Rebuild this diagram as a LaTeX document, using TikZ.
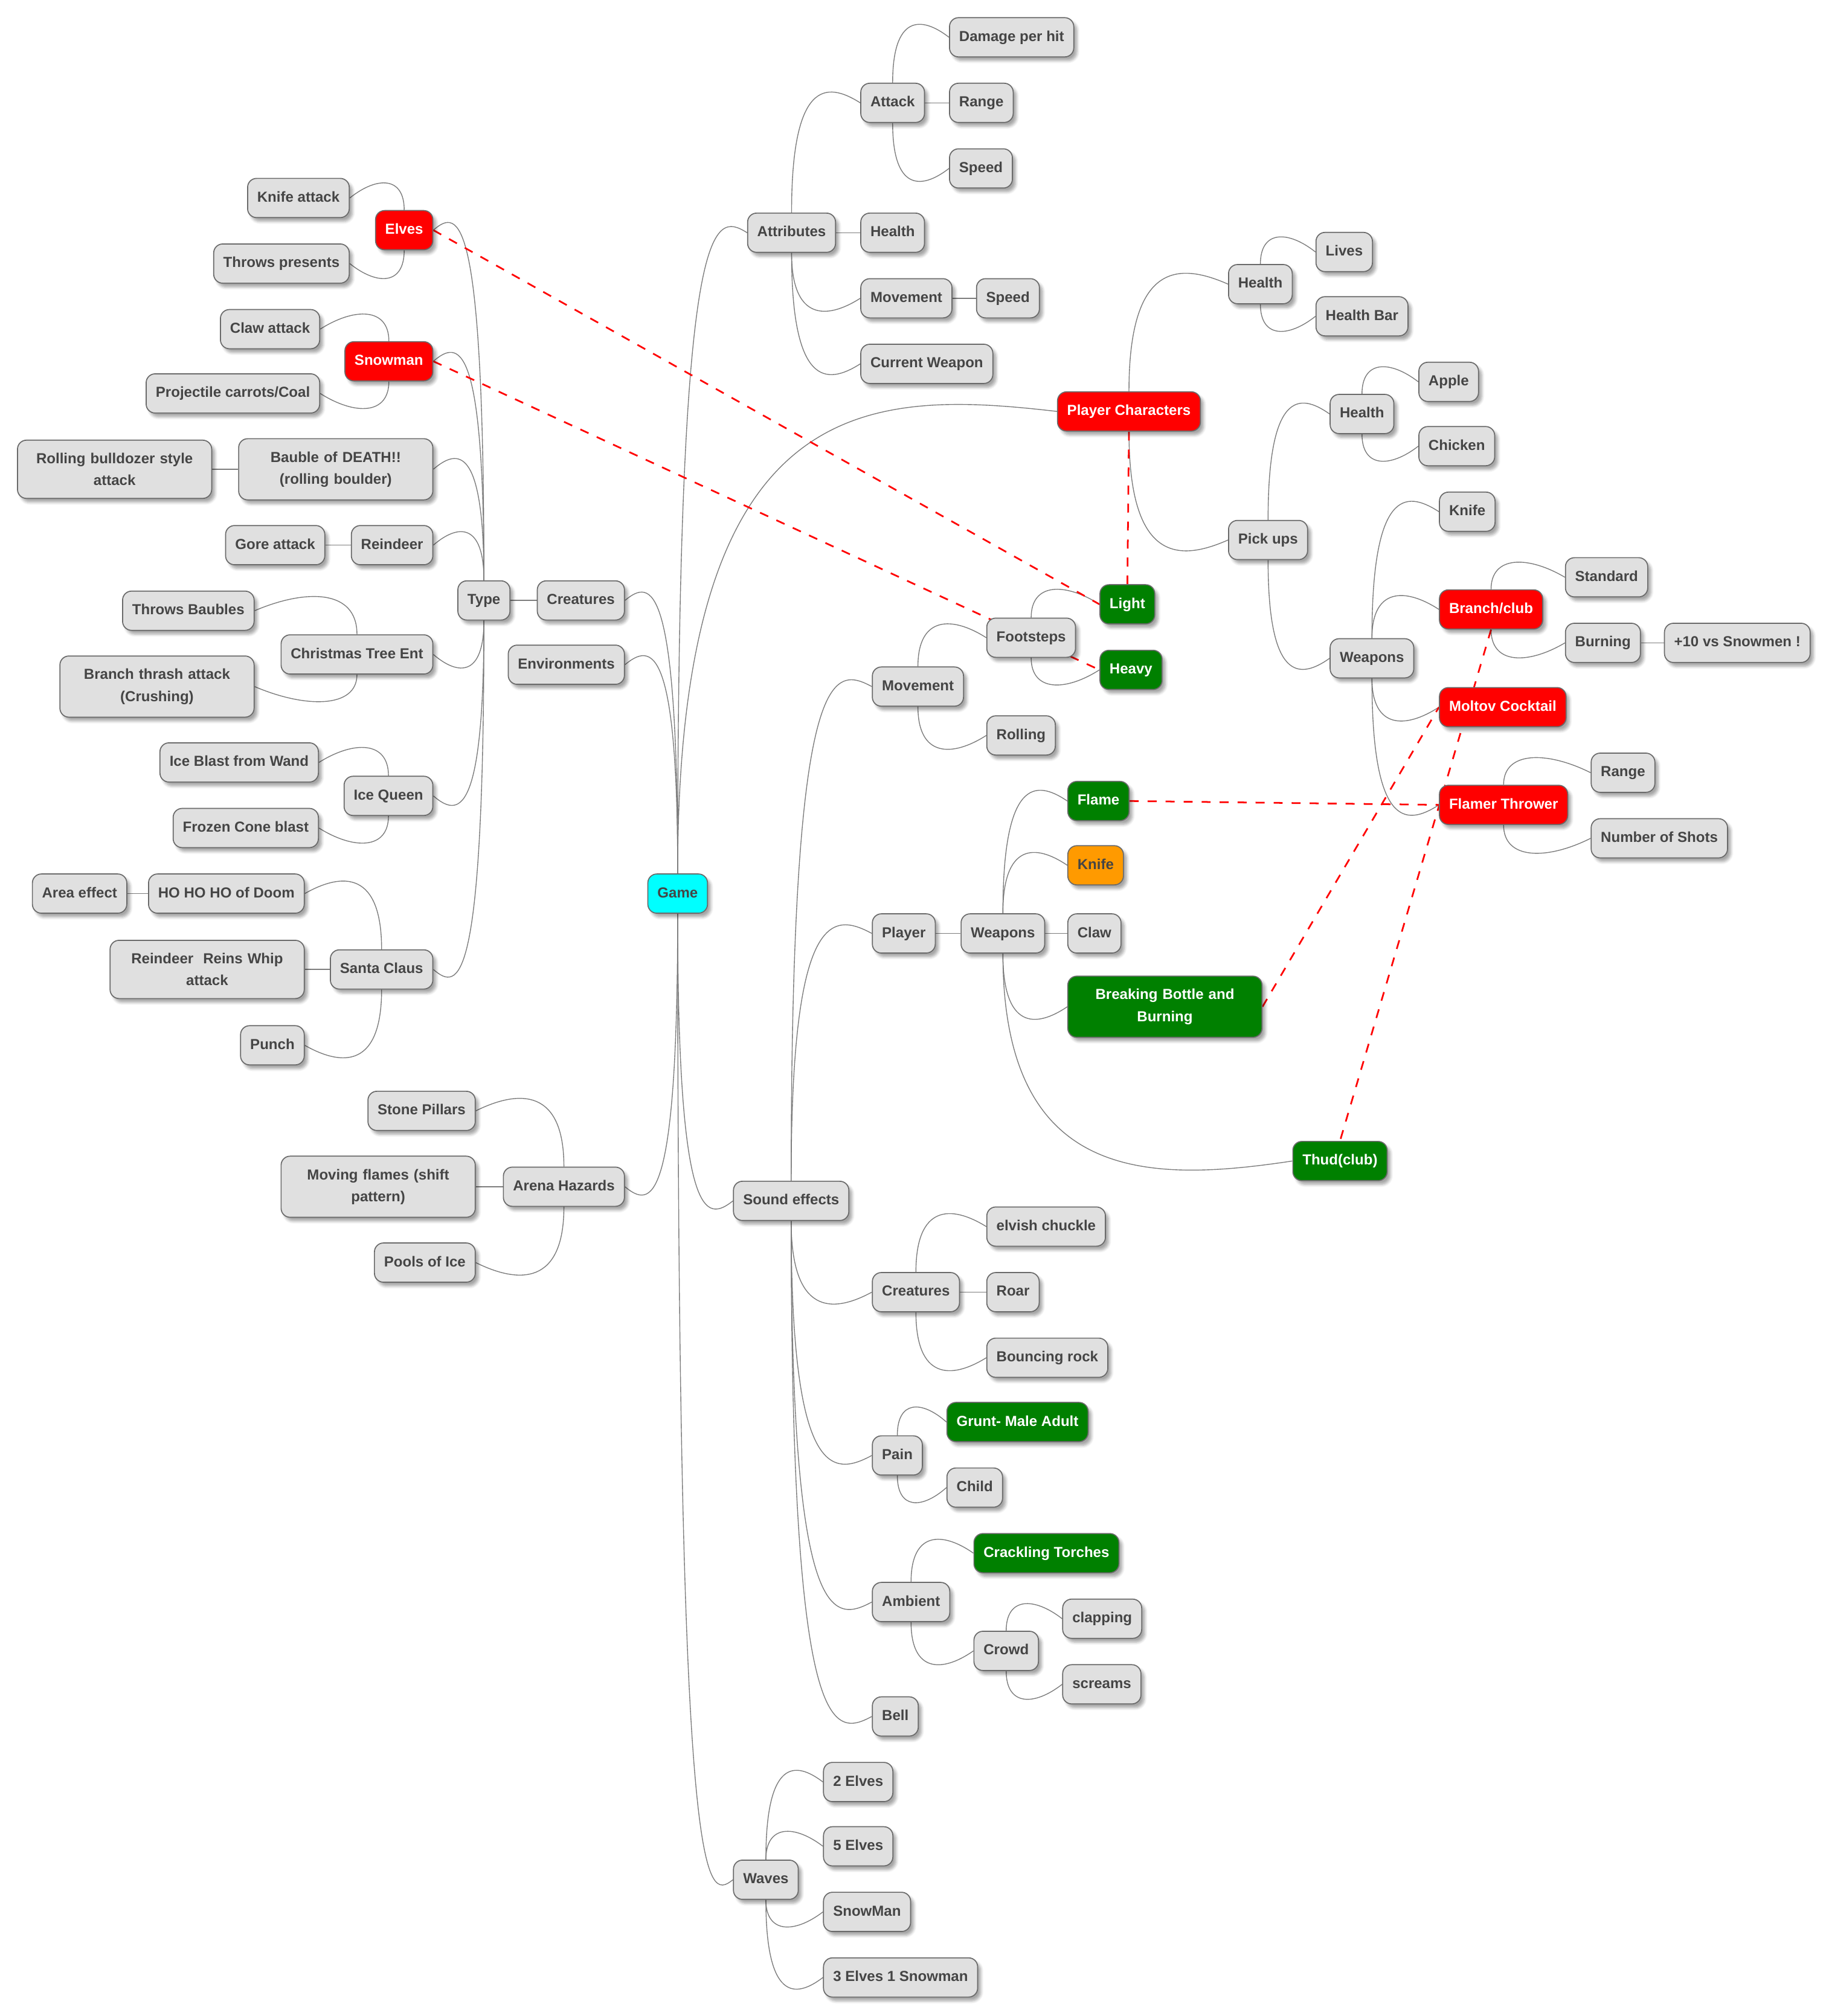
\documentclass[tikz,border=0pt]{standalone}
\usepackage{fontspec}
\setmainfont{Liberation Sans}
\usepackage{tikz}
\usetikzlibrary{calc,shadows.blur}

\definecolor{nodegray}{HTML}{E0E0E0}
\definecolor{bordergray}{HTML}{6A6A6A}
\definecolor{textgray}{HTML}{454545}
\definecolor{linegray}{HTML}{7C7C7C}
\definecolor{nodegreen}{HTML}{008000}
\definecolor{nodeorange}{HTML}{FF9A00}
\definecolor{nodered}{HTML}{FF0000}
\definecolor{nodecyan}{HTML}{00FFFF}

\pgfdeclarelayer{background}
\pgfsetlayers{background,main}

\begin{document}
\begin{tikzpicture}[
			x=1pt, y=-1pt,
			mmnode/.style={rectangle, rounded corners=7pt, draw=bordergray, line width=0.8pt, fill=nodegray, text=textgray,
				font=\bfseries\fontsize{11.3}{17}\selectfont, inner xsep=7.5pt, inner ysep=10pt, text height=8.3pt, text depth=2.2pt,
				blur shadow={shadow xshift=2.5pt, shadow yshift=-3pt, shadow opacity=35, shadow blur steps=6}},
			rnode/.style={mmnode, anchor=west},
			lnode/.style={mmnode, anchor=east},
			rootnode/.style={mmnode, fill=nodecyan},
			rednode/.style={fill=nodered, text=white},
			greennode/.style={fill=nodegreen, text=white},
			orangenode/.style={fill=nodeorange},
			widenode/.style={text width=136pt, align=center, text height={}, text depth={}},
			link/.style={draw=linegray, line width=0.65pt},
			xref/.style={draw=nodered, line width=1.3pt, dash pattern=on 7pt off 7pt},
			uplink/.style={to path={let \p1=(\tikztostart), \p2=(\tikztotarget) in
				.. controls (\x1,\y2+17pt) and ({(\x1+\x2)/2},\y2+17pt) .. (\tikztotarget)}},
			downlink/.style={to path={let \p1=(\tikztostart), \p2=(\tikztotarget) in
				.. controls (\x1,\y2-17pt) and ({(\x1+\x2)/2},\y2-17pt) .. (\tikztotarget)}},
			]
			\useasboundingbox (0,0) rectangle (1420,1568);

			%Nodes
			\node[rootnode] (game) at (527,695) {Game};

			% attributes
			\node[rnode] (attributes) at (581,181) {Attributes};
			\node[rnode] (attack)     at (669,80)  {Attack};
			\node[rnode] (dmg)        at (738,29)  {Damage per hit};
			\node[rnode] (arange)     at (738,80)  {Range};
			\node[rnode] (aspeed)     at (738,131) {Speed};
			\node[rnode] (ahealth)    at (669,181) {Health};
			\node[rnode] (amove)      at (669,232) {Movement};
			\node[rnode] (mspeed)     at (759,232) {Speed};
			\node[rnode] (curweapon)  at (669,283) {Current Weapon};

			% player characters
			\node[rnode, rednode] (pchars) at (822,320) {Player Characters};
			\node[rnode] (pchealth)  at (955,221)  {Health};
			\node[rnode] (lives)     at (1023,196) {Lives};
			\node[rnode] (healthbar) at (1023,246) {Health Bar};
			\node[rnode] (pickups)   at (955,420)  {Pick ups};
			\node[rnode] (puhealth)  at (1034,322) {Health};
			\node[rnode] (apple)     at (1103,297) {Apple};
			\node[rnode] (chicken)   at (1103,347) {Chicken};
			\node[rnode] (puweapons) at (1034,512) {Weapons};
			\node[rnode] (puknife)   at (1119,398) {Knife};
			\node[rnode, rednode] (branch) at (1119,474) {Branch/club};
			\node[rnode] (standard)  at (1217,449) {Standard};
			\node[rnode] (burning)   at (1217,500) {Burning};
			\node[rnode] (plusten)   at (1294,500) {+10 vs Snowmen !};
			\node[rnode, rednode] (moltov) at (1119,550) {Moltov Cocktail};
			\node[rnode, rednode] (flamer) at (1119,626) {Flamer Thrower};
			\node[rnode] (frange)    at (1237,601) {Range};
			\node[rnode] (shots)     at (1237,652) {Number of Shots};

			% sound effects
			\node[rnode] (sound)     at (570,934)  {Sound effects};
			\node[rnode] (smove)     at (678,534)  {Movement};
			\node[rnode] (footsteps) at (767,496)  {Footsteps};
			\node[rnode, greennode] (light) at (855,470) {Light};
			\node[rnode, greennode] (heavy) at (855,521) {Heavy};
			\node[rnode] (rolling)   at (767,572)  {Rolling};
			\node[rnode] (splayer)   at (678,726)  {Player};
			\node[rnode] (pweapons)  at (747,726)  {Weapons};
			\node[rnode, greennode]  (flame)  at (830,623) {Flame};
			\node[rnode, orangenode] (wknife) at (830,673) {Knife};
			\node[rnode] (claw)      at (830,726)  {Claw};
			\node[rnode, greennode, widenode] (bottle) at (830,783) {Breaking Bottle and\\Burning};
			\node[rnode, greennode] (thud) at (1005,903) {Thud(club)};
			\node[rnode] (screatures) at (678,1005) {Creatures};
			\node[rnode] (chuckle)   at (767,954)  {elvish chuckle};
			\node[rnode] (roar)      at (767,1005) {Roar};
			\node[rnode] (bouncing)  at (767,1056) {Bouncing rock};
			\node[rnode] (pain)      at (678,1132) {Pain};
			\node[rnode, greennode] (grunt) at (736,1106) {Grunt- Male Adult};
			\node[rnode] (child)     at (736,1157) {Child};
			\node[rnode] (ambient)   at (678,1246) {Ambient};
			\node[rnode, greennode] (torches) at (757,1208) {Crackling Torches};
			\node[rnode] (crowd)     at (757,1284) {Crowd};
			\node[rnode] (clapping)  at (826,1259) {clapping};
			\node[rnode] (screams)   at (826,1310) {screams};
			\node[rnode] (bell)      at (678,1335) {Bell};

			% waves
			\node[rnode] (waves)     at (570,1462) {Waves};
			\node[rnode] (wtwo)      at (640,1386) {2 Elves};
			\node[rnode] (wfive)     at (640,1436) {5 Elves};
			\node[rnode] (wsnow)     at (640,1487) {SnowMan};
			\node[rnode] (wmixed)    at (640,1538) {3 Elves 1 Snowman};

			% creatures
			\node[lnode] (creatures) at (486,467) {Creatures};
			\node[lnode] (type)      at (397,467) {Type};
			\node[lnode, rednode] (elves) at (337,179) {Elves};
			\node[lnode] (knifeatk)  at (272,154) {Knife attack};
			\node[lnode] (presents)  at (272,205) {Throws presents};
			\node[lnode, rednode] (snowman) at (337,281) {Snowman};
			\node[lnode] (clawatk)   at (249,256) {Claw attack};
			\node[lnode] (carrots)   at (249,306) {Projectile carrots/Coal};
			\node[lnode, widenode] (bauble)    at (337,365) {Bauble of DEATH!!\\(rolling boulder)};
			\node[lnode, widenode] (bulldozer) at (165,365) {Rolling bulldozer style\\attack};
			\node[lnode] (reindeer)  at (337,424) {Reindeer};
			\node[lnode] (gore)      at (253,424) {Gore attack};
			\node[lnode] (tree)      at (337,509) {Christmas Tree Ent};
			\node[lnode] (baubles)   at (198,475) {Throws Baubles};
			\node[lnode, widenode] (thrash) at (198,534) {Branch thrash attack\\(Crushing)};
			\node[lnode] (icequeen)  at (337,619) {Ice Queen};
			\node[lnode] (iceblast)  at (248,593) {Ice Blast from Wand};
			\node[lnode] (cone)      at (248,644) {Frozen Cone blast};
			\node[lnode] (santa)     at (337,754) {Santa Claus};
			\node[lnode] (hoho)      at (237,695) {HO HO HO of Doom};
			\node[lnode] (area)      at (99,695)  {Area effect};
			\node[lnode, widenode] (whip) at (237,754) {Reindeer\ \ Reins Whip\\attack};
			\node[lnode] (punch)     at (237,813) {Punch};

			% environments and hazards
			\node[lnode] (environments) at (486,517) {Environments};
			\node[lnode] (arena)     at (486,923) {Arena Hazards};
			\node[lnode] (pillars)   at (370,864) {Stone Pillars};
			\node[lnode, widenode] (flames) at (370,923) {Moving flames (shift\\pattern)};
			\node[lnode] (ice)       at (370,982) {Pools of Ice};

			\begin{pgfonlayer}{background}
			%Links
			\draw[link] (game.north) to[uplink] (attributes.west);
			\draw[link] (game.north) to[uplink] (pchars.west);
			\draw[link] (game.south) to[downlink] (sound.west);
			\draw[link] (game.south) to[downlink] (waves.west);
			\draw[link] (game.north) to[uplink] (creatures.east);
			\draw[link] (game.north) to[uplink] (environments.east);
			\draw[link] (game.south) to[downlink] (arena.east);

			\draw[link] (attributes.north) to[uplink] (attack.west);
			\draw[link] (attributes) -- (ahealth);
			\draw[link] (attributes.south) to[downlink] (amove.west);
			\draw[link] (attributes.south) to[downlink] (curweapon.west);
			\draw[link] (attack.north) to[uplink] (dmg.west);
			\draw[link] (attack) -- (arange);
			\draw[link] (attack.south) to[downlink] (aspeed.west);
			\draw[link] (amove) -- (mspeed);

			\draw[link] (pchars.north) to[uplink] (pchealth.west);
			\draw[link] (pchars.south) to[downlink] (pickups.west);
			\draw[link] (pchealth.north) to[uplink] (lives.west);
			\draw[link] (pchealth.south) to[downlink] (healthbar.west);
			\draw[link] (pickups.north) to[uplink] (puhealth.west);
			\draw[link] (pickups.south) to[downlink] (puweapons.west);
			\draw[link] (puhealth.north) to[uplink] (apple.west);
			\draw[link] (puhealth.south) to[downlink] (chicken.west);
			\draw[link] (puweapons.north) to[uplink] (puknife.west);
			\draw[link] (puweapons.north) to[uplink] (branch.west);
			\draw[link] (puweapons.south) to[downlink] (moltov.west);
			\draw[link] (puweapons.south) to[downlink] (flamer.west);
			\draw[link] (branch.north) to[uplink] (standard.west);
			\draw[link] (branch.south) to[downlink] (burning.west);
			\draw[link] (burning) -- (plusten);
			\draw[link] (flamer.north) to[uplink] (frange.west);
			\draw[link] (flamer.south) to[downlink] (shots.west);

			\draw[link] (sound.north) to[uplink] (smove.west);
			\draw[link] (sound.north) to[uplink] (splayer.west);
			\draw[link] (sound.south) to[downlink] (screatures.west);
			\draw[link] (sound.south) to[downlink] (pain.west);
			\draw[link] (sound.south) to[downlink] (ambient.west);
			\draw[link] (sound.south) to[downlink] (bell.west);
			\draw[link] (smove.north) to[uplink] (footsteps.west);
			\draw[link] (smove.south) to[downlink] (rolling.west);
			\draw[link] (footsteps.north) to[uplink] (light.west);
			\draw[link] (footsteps.south) to[downlink] (heavy.west);
			\draw[link] (splayer) -- (pweapons);
			\draw[link] (pweapons.north) to[uplink] (flame.west);
			\draw[link] (pweapons.north) to[uplink] (wknife.west);
			\draw[link] (pweapons) -- (claw);
			\draw[link] (pweapons.south) to[downlink] (bottle.west);
			\draw[link] (pweapons.south) to[downlink] (thud.west);
			\draw[link] (screatures.north) to[uplink] (chuckle.west);
			\draw[link] (screatures) -- (roar);
			\draw[link] (screatures.south) to[downlink] (bouncing.west);
			\draw[link] (pain.north) to[uplink] (grunt.west);
			\draw[link] (pain.south) to[downlink] (child.west);
			\draw[link] (ambient.north) to[uplink] (torches.west);
			\draw[link] (ambient.south) to[downlink] (crowd.west);
			\draw[link] (crowd.north) to[uplink] (clapping.west);
			\draw[link] (crowd.south) to[downlink] (screams.west);

			\draw[link] (waves.north) to[uplink] (wtwo.west);
			\draw[link] (waves.north) to[uplink] (wfive.west);
			\draw[link] (waves.south) to[downlink] (wsnow.west);
			\draw[link] (waves.south) to[downlink] (wmixed.west);

			\draw[link] (creatures) -- (type);
			\draw[link] (type.north) to[uplink] (elves.east);
			\draw[link] (type.north) to[uplink] (snowman.east);
			\draw[link] (type.north) to[uplink] (bauble.east);
			\draw[link] (type.north) to[uplink] (reindeer.east);
			\draw[link] (type.south) to[downlink] (tree.east);
			\draw[link] (type.south) to[downlink] (icequeen.east);
			\draw[link] (type.south) to[downlink] (santa.east);
			\draw[link] (elves.north) to[uplink] (knifeatk.east);
			\draw[link] (elves.south) to[downlink] (presents.east);
			\draw[link] (snowman.north) to[uplink] (clawatk.east);
			\draw[link] (snowman.south) to[downlink] (carrots.east);
			\draw[link] (bauble) -- (bulldozer);
			\draw[link] (reindeer) -- (gore);
			\draw[link] (tree.north) to[uplink] (baubles.east);
			\draw[link] (tree.south) to[downlink] (thrash.east);
			\draw[link] (icequeen.north) to[uplink] (iceblast.east);
			\draw[link] (icequeen.south) to[downlink] (cone.east);
			\draw[link] (santa.north) to[uplink] (hoho.east);
			\draw[link] (santa) -- (whip);
			\draw[link] (santa.south) to[downlink] (punch.east);
			\draw[link] (hoho) -- (area);

			\draw[link] (arena.north) to[uplink] (pillars.east);
			\draw[link] (arena) -- (flames);
			\draw[link] (arena.south) to[downlink] (ice.east);

			% cross references
			\draw[xref] (elves.east) -- (light.west);
			\draw[xref] (snowman.east) -- (heavy.west);
			\draw[xref] (pchars.south) -- (light.north);
			\draw[xref] (flame.east) -- (flamer.west);
			\draw[xref] (branch.south) -- (thud.north);
			\draw[xref] (bottle.east) -- (moltov.west);
			\end{pgfonlayer}
		\end{tikzpicture}
\end{document}
